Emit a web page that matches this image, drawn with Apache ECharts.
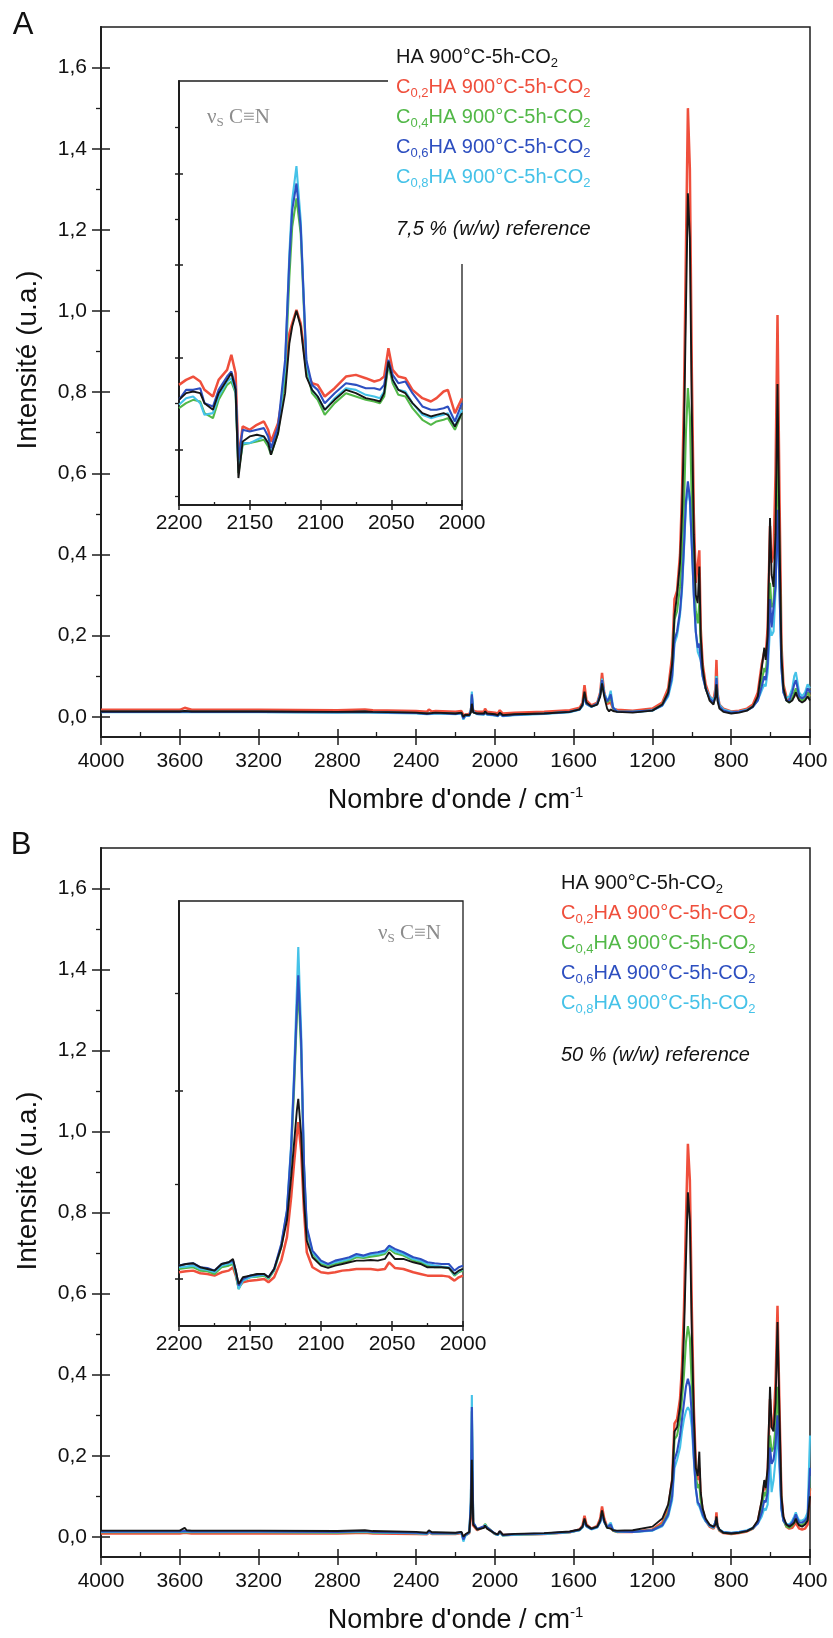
<!DOCTYPE html>
<html><head><meta charset="utf-8">
<script src="https://cdn.jsdelivr.net/npm/echarts@6/dist/echarts.min.js"></script>
<style>html,body{margin:0;padding:0;background:#fff}#c{width:833px;height:1638px}</style>
</head><body><div id="c"></div>
<script>
// ---------- wavenumber grids (cm-1) ----------
const wnLow = [4000,3800,3600,3575,3565,3540,3200,2800,2660,2620,2400,2345,2335,2320,2300,2200,2170,2160,2150,2130,2122,2117,2110,2090,2055,2050,2040,2000,1985,1975,1960,1900,1750,1620,1570,1555,1545,1535,1510,1480,1465,1456,1445,1430,1420,1412,1400,1380,1300,1200,1150];
const wnHigh = [1120,1100,1088,1075,1060,1050,1040,1030,1020,1010,1000,990,980,970,962,955,945,930,910,890,880,875,870,860,840,800,760,720,690,665,645,632,625,615,603,595,585,575,565,555,545,535,520,505,490,480,472,465,455,440,425,412,400];
const wnInsetA = [2200,2195,2190,2185,2182,2176,2172,2166,2163,2160,2158,2155,2150,2145,2140,2137,2135,2130,2125,2122,2120,2117,2114,2110,2106,2102,2097,2090,2082,2075,2068,2062,2058,2055,2052,2049,2045,2040,2035,2028,2022,2018,2013,2010,2005,2000];
const wnInsetB = [2200,2195,2190,2185,2180,2175,2170,2165,2162,2160,2158,2155,2150,2145,2140,2137,2133,2128,2124,2121,2119,2117,2116,2114,2112,2110,2106,2100,2095,2090,2085,2080,2075,2070,2065,2060,2055,2052,2048,2042,2035,2030,2025,2020,2015,2010,2006,2003,2000];

// ---------- Panel A (7,5 % w/w reference) ----------
const A_HA_low  = [0.013,0.013,0.013,0.014,0.013,0.013,0.013,0.012,0.013,0.012, 0.010,0.008,0.012,0.009,0.010,0.008,0.010,0.000,0.005,0.004, 0.010,0.032,0.010,0.008,0.008,0.013,0.008,0.006,0.004,0.010, 0.004,0.006,0.008,0.012,0.018,0.030,0.062,0.035,0.025,0.030, 0.050,0.082,0.050,0.020,0.013,0.018,0.014,0.012,0.010,0.015,0.030];
const A_C02_low = [0.017,0.017,0.017,0.022,0.018,0.017,0.017,0.016,0.018,0.016, 0.014,0.012,0.018,0.013,0.014,0.012,0.014,0.004,0.008,0.007, 0.015,0.035,0.014,0.012,0.012,0.020,0.012,0.010,0.008,0.016, 0.008,0.010,0.012,0.016,0.022,0.035,0.078,0.040,0.028,0.035, 0.060,0.108,0.060,0.032,0.030,0.035,0.020,0.017,0.015,0.020,0.035];
const A_C04_low = [0.012,0.012,0.012,0.013,0.012,0.012,0.012,0.011,0.012,0.011, 0.009,0.007,0.011,0.008,0.009,0.007,0.009,-0.003,0.003,0.003, 0.015,0.052,0.012,0.007,0.006,0.011,0.006,0.004,0.002,0.008, 0.002,0.005,0.008,0.012,0.018,0.028,0.055,0.032,0.025,0.032, 0.055,0.090,0.055,0.035,0.040,0.045,0.020,0.013,0.012,0.016,0.030];
const A_C06_low = [0.012,0.012,0.012,0.013,0.012,0.012,0.012,0.011,0.012,0.011, 0.009,0.007,0.011,0.008,0.009,0.007,0.009,-0.004,0.003,0.003, 0.016,0.055,0.012,0.007,0.006,0.012,0.006,0.004,0.002,0.008, 0.002,0.005,0.008,0.012,0.018,0.028,0.052,0.032,0.025,0.032, 0.055,0.090,0.055,0.038,0.045,0.055,0.022,0.013,0.012,0.016,0.028];
const A_C08_low = [0.011,0.011,0.011,0.012,0.011,0.011,0.011,0.010,0.011,0.010, 0.008,0.006,0.010,0.007,0.008,0.006,0.008,-0.007,0.002,0.002, 0.017,0.062,0.012,0.006,0.005,0.011,0.005,0.003,0.001,0.007, 0.001,0.004,0.007,0.011,0.017,0.027,0.050,0.031,0.024,0.031, 0.056,0.094,0.058,0.040,0.048,0.064,0.024,0.013,0.012,0.015,0.027];

const A_HA_high  = [0.06,0.13,0.25,0.30,0.38,0.50,0.70,1.00,1.29,1.18, 0.75,0.45,0.30,0.28,0.37,0.20,0.12,0.07,0.04,0.03, 0.05,0.08,0.04,0.02,0.012,0.008,0.01,0.015,0.025,0.05, 0.12,0.17,0.14,0.20,0.49,0.35,0.32,0.45,0.82,0.45, 0.15,0.07,0.04,0.035,0.04,0.05,0.06,0.05,0.04,0.035, 0.04,0.05,0.04];
const A_C02_high = [0.07,0.15,0.29,0.31,0.40,0.55,0.78,1.15,1.50,1.35, 0.85,0.50,0.33,0.33,0.41,0.22,0.13,0.08,0.05,0.04, 0.07,0.14,0.06,0.03,0.02,0.013,0.015,0.02,0.03,0.06, 0.13,0.16,0.15,0.22,0.47,0.38,0.40,0.60,0.99,0.55, 0.18,0.08,0.05,0.04,0.045,0.05,0.065,0.055,0.045,0.04, 0.045,0.06,0.05];
const A_C04_high = [0.06,0.12,0.24,0.26,0.32,0.40,0.52,0.70,0.81,0.74, 0.52,0.36,0.26,0.23,0.28,0.17,0.11,0.07,0.045,0.035, 0.05,0.10,0.05,0.025,0.015,0.01,0.012,0.017,0.025,0.045, 0.09,0.12,0.11,0.16,0.33,0.27,0.28,0.40,0.66,0.40, 0.14,0.07,0.04,0.035,0.045,0.06,0.07,0.06,0.045,0.04, 0.045,0.06,0.05];
const A_C06_high = [0.055,0.10,0.19,0.21,0.26,0.32,0.42,0.53,0.58,0.54, 0.42,0.30,0.21,0.17,0.18,0.14,0.10,0.07,0.045,0.035, 0.05,0.095,0.05,0.025,0.015,0.01,0.012,0.016,0.024,0.04, 0.075,0.10,0.09,0.13,0.29,0.22,0.22,0.32,0.51,0.32, 0.12,0.06,0.04,0.04,0.06,0.08,0.09,0.075,0.05,0.045, 0.05,0.07,0.06];
const A_C08_high = [0.05,0.09,0.18,0.20,0.25,0.31,0.41,0.52,0.56,0.53, 0.42,0.30,0.21,0.16,0.16,0.14,0.10,0.07,0.05,0.04, 0.055,0.10,0.055,0.03,0.018,0.012,0.013,0.017,0.025,0.04, 0.065,0.08,0.075,0.11,0.22,0.20,0.21,0.31,0.50,0.32, 0.12,0.06,0.045,0.05,0.07,0.10,0.11,0.09,0.06,0.05, 0.06,0.08,0.07];

// inset A (arbitrary intensity units, no scale shown)
const A_HA_inset  = [29,31,31.5,31,28,26,31,35,37,32, 5.5,16.5,18,18.5,18,16,12.5,19,31,46, 51,55.8,51,36,32,30,26,29,32,31, 29.5,29,28.5,31,40.5,35,32,31,28,25, 24,24.5,25,24.5,21,25];
const A_C02_inset = [33.5,35,36,34.5,32,30,35,38,42.5,37, 11.5,21,20,21.5,22.5,20,16.5,22,35,49, 52,56,52,38,34,33.5,30,32.5,36,36.5, 35.5,34.5,35,36,44.5,38,36,35.5,32,29.5, 28.5,29.5,31.5,32,25,29.5];
const A_C04_inset = [26.5,28,29,28.5,25,23.5,29,33.5,34.5,31, 7,15.5,16,16.5,17,15,12.5,19,36,66, 81,89.5,79,39,31,29,24.5,28,31,30, 29,28.5,28,30,39.5,34,30.5,30,26.5,23, 21.5,22.5,23,23.5,20,25];
const A_C06_inset = [29,32,32,32.5,28,27,32,36,37.5,33, 11,20,19.5,20,20.5,18,14.5,21,41,71, 86,94,81,41,33.5,32,28,31,34,33.5, 32.5,32.5,32,33.5,41,36.5,34,34.5,31,27, 26,26,26.5,27,22.5,28];
const A_C08_inset = [27.5,29.5,30,28,24.5,25,30,34.5,35.5,31.5, 8,16,16,17,18,16,13,20,39,73, 89,99.2,83,40,32,30,26,29.5,32.5,32, 30.5,30,29.5,31.5,40,35,32,31.5,28,24.5, 23.5,24,24.5,25,21,26];

// ---------- Panel B (50 % w/w reference) ----------
const B_HA_low  = [0.015,0.015,0.015,0.022,0.016,0.015,0.015,0.014,0.016,0.014, 0.012,0.010,0.016,0.011,0.011,0.010,0.012,0.000,0.006,0.012, 0.060,0.190,0.030,0.018,0.022,0.028,0.020,0.008,0.006,0.014, 0.005,0.007,0.009,0.013,0.018,0.025,0.045,0.028,0.020,0.025, 0.040,0.065,0.040,0.022,0.018,0.020,0.016,0.015,0.016,0.025,0.045];
const B_C02_low = [0.008,0.008,0.008,0.010,0.008,0.008,0.008,0.008,0.010,0.008, 0.007,0.006,0.011,0.007,0.007,0.007,0.009,-0.002,0.004,0.009, 0.055,0.170,0.028,0.016,0.025,0.030,0.022,0.007,0.005,0.013, 0.004,0.005,0.007,0.011,0.018,0.028,0.052,0.030,0.020,0.027, 0.045,0.075,0.045,0.024,0.022,0.024,0.015,0.012,0.012,0.018,0.035];
const B_C04_low = [0.011,0.011,0.011,0.012,0.011,0.011,0.011,0.010,0.012,0.010, 0.009,0.007,0.012,0.008,0.008,0.008,0.010,-0.006,0.003,0.010, 0.080,0.310,0.035,0.018,0.025,0.032,0.024,0.007,0.004,0.012, 0.003,0.005,0.007,0.011,0.016,0.024,0.040,0.026,0.019,0.024, 0.038,0.060,0.038,0.022,0.024,0.028,0.015,0.012,0.012,0.016,0.030];
const B_C06_low = [0.013,0.013,0.013,0.014,0.013,0.013,0.013,0.012,0.014,0.012, 0.010,0.008,0.013,0.009,0.009,0.009,0.011,-0.007,0.004,0.011, 0.085,0.320,0.035,0.019,0.026,0.030,0.023,0.008,0.005,0.013, 0.004,0.006,0.008,0.012,0.017,0.024,0.038,0.026,0.019,0.024, 0.037,0.058,0.037,0.023,0.026,0.030,0.016,0.013,0.012,0.016,0.028];
const B_C08_low = [0.012,0.012,0.012,0.013,0.012,0.012,0.012,0.011,0.013,0.011, 0.009,0.007,0.012,0.008,0.008,0.008,0.010,-0.012,0.002,0.011, 0.090,0.350,0.035,0.018,0.024,0.030,0.022,0.007,0.004,0.012, 0.003,0.005,0.007,0.011,0.016,0.023,0.036,0.025,0.018,0.023, 0.036,0.055,0.036,0.024,0.028,0.035,0.017,0.013,0.012,0.015,0.026];

const B_HA_high  = [0.08,0.14,0.26,0.27,0.32,0.38,0.50,0.68,0.85,0.78, 0.50,0.30,0.17,0.15,0.21,0.11,0.07,0.045,0.03,0.025, 0.03,0.05,0.028,0.018,0.01,0.008,0.01,0.014,0.022,0.04, 0.09,0.14,0.12,0.17,0.37,0.27,0.26,0.33,0.53,0.30, 0.10,0.05,0.03,0.025,0.03,0.035,0.045,0.035,0.028,0.025, 0.03,0.04,0.10];
const B_C02_high = [0.07,0.14,0.28,0.29,0.34,0.42,0.56,0.78,0.97,0.88, 0.56,0.32,0.18,0.14,0.17,0.10,0.065,0.04,0.025,0.02, 0.03,0.06,0.025,0.015,0.009,0.007,0.009,0.013,0.02,0.038, 0.085,0.13,0.115,0.16,0.34,0.27,0.28,0.38,0.57,0.32, 0.10,0.045,0.025,0.02,0.022,0.025,0.035,0.028,0.02,0.018, 0.02,0.03,0.12];
const B_C04_high = [0.06,0.12,0.24,0.25,0.29,0.34,0.40,0.48,0.52,0.49, 0.37,0.25,0.15,0.12,0.13,0.09,0.06,0.04,0.027,0.022, 0.025,0.045,0.025,0.016,0.01,0.008,0.01,0.014,0.02,0.035, 0.07,0.11,0.10,0.13,0.25,0.21,0.22,0.27,0.37,0.23, 0.08,0.04,0.025,0.022,0.028,0.035,0.045,0.038,0.03,0.03, 0.035,0.045,0.15];
const B_C06_high = [0.055,0.10,0.19,0.21,0.25,0.29,0.33,0.37,0.39,0.37, 0.30,0.20,0.12,0.085,0.08,0.07,0.055,0.04,0.028,0.023, 0.026,0.045,0.026,0.017,0.011,0.009,0.011,0.015,0.021,0.033, 0.06,0.09,0.085,0.11,0.22,0.18,0.19,0.23,0.30,0.19, 0.07,0.04,0.03,0.028,0.035,0.045,0.055,0.045,0.035,0.035, 0.04,0.05,0.17];
const B_C08_high = [0.05,0.09,0.17,0.19,0.22,0.26,0.29,0.31,0.32,0.31, 0.27,0.19,0.12,0.08,0.075,0.065,0.05,0.038,0.027,0.022, 0.026,0.045,0.027,0.018,0.012,0.01,0.012,0.016,0.022,0.032, 0.05,0.07,0.065,0.08,0.19,0.11,0.14,0.19,0.26,0.17, 0.065,0.04,0.032,0.03,0.04,0.05,0.06,0.05,0.04,0.04, 0.045,0.06,0.25];

const B_HA_inset  = [15.5,16,16.2,15,14.5,14,16,16.5,17.5,14, 10,12,12.5,13,13,12,14.5,21,29,42, 52,62,65.5,55,35,23,18,15.5,14.8,15.5, 16,16.5,17,17,17.2,17,17.5,19.5,17.5,17.5, 16.5,16,15,15,15,14.8,13,14,14.5];
const B_C02_inset = [13.5,13.8,14,13.2,13,12.5,13.5,14,15,12.5, 9,10.5,11,11.2,11.5,10.5,12,17,24,36, 46,55,58.5,50,32,19.5,15,13.5,13.2,13.5, 14,14.2,14.5,14.5,14.5,14.2,14.5,16.5,14.8,14.5, 13.5,13,12.5,12.5,12.5,12.2,11,12,12.5];
const B_C04_inset = [14.5,14.8,15,14,13.8,13,15,15.5,16,13, 8.5,11,12,12.2,12.5,11.5,14,21,31,49, 68,90,99,80,44,26,19,16,15.5,16, 16.5,17,18,17.8,18.2,18.5,19,20.5,19.2,18.5, 17,16.5,15.5,15,15,14.8,12.5,13.5,14];
const B_C06_inset = [15.5,16,16.2,15,14.8,14,16,16.5,17,14, 9.5,11.5,12.5,12.8,13,12,14.5,22,32,51, 71,93,102.5,83,46,27,20,17,16,17, 17.5,18,19,18.5,19.2,19.5,20,21.5,20.5,19.5, 18,17.5,16.5,16.2,16,16,14,15,15.5];
const B_C08_inset = [15,15.2,15.5,14.5,14.2,13.5,15.5,16,16.5,13.5, 8.5,11,12,12.5,12.8,11.8,14.2,21.5,32,52, 73,98,111,86,46,26.5,19.5,16.5,15.8,16.5, 17,17.5,18.5,18.2,18.8,19,19.5,21,19.8,19, 17.5,17,16,15.5,15.2,15,12.8,13.8,14.5];

// ---------- tick values / labels ----------
const yMainTicks = [0,0.2,0.4,0.6,0.8,1.0,1.2,1.4,1.6];
const yMainMinor = [0.1,0.3,0.5,0.7,0.9,1.1,1.3,1.5];
const insetATicksMajor = [14,41.7,69.5,97];
const insetATicksMinor = [0,28,55.7,83.2,111];
const insetBTicksMajor = [11.5,68];
const insetBTicksMinor = [39.8,97];

const legendLabels = ['HA 900°C-5h-CO{s|2}','C{s|0,2}HA 900°C-5h-CO{s|2}','C{s|0,4}HA 900°C-5h-CO{s|2}','C{s|0,6}HA 900°C-5h-CO{s|2}','C{s|0,8}HA 900°C-5h-CO{s|2}'];
const refA = '7,5 % (w/w) reference';
const refB = '50 % (w/w) reference';
const colors = ['#161616','#ef4f3c','#52b848','#2d4fc0','#45c2e8'];

// ---------- build ----------
const FONT = '"Liberation Sans", Arial, sans-serif';
const AX = '#1e1e1e', TXT = '#111';
const wnMain = wnLow.concat(wnHigh);
const pairs = (xs, ys) => xs.map((x, i) => [x, ys[i]]);

const grids = [
  {left:101, top:27, width:709, height:710, show:true, borderColor:AX, borderWidth:1.5, backgroundColor:'transparent', containLabel:false, outerBoundsMode:'none'},
  {left:179, top:81, width:283, height:424, show:true, borderColor:AX, borderWidth:1.3, backgroundColor:'#fff', containLabel:false, outerBoundsMode:'none'},
  {left:101, top:848, width:709, height:709, show:true, borderColor:AX, borderWidth:1.5, backgroundColor:'transparent', containLabel:false, outerBoundsMode:'none'},
  {left:179, top:901, width:284, height:425, show:true, borderColor:AX, borderWidth:1.3, backgroundColor:'#fff', containLabel:false, outerBoundsMode:'none'}
];

const xAxes = [], yAxes = [];
const tickLS = w => ({color:AX, width:w});
function addX(gi, min, max, interval, tickLen, minorLen, labelSize, margin, name) {
  const base = {gridIndex:gi, type:'value', min, max, interval, inverse:true, position:'bottom',
    axisLine:{show:true, onZero:false, lineStyle:{color:AX, width:1.5}}, splitLine:{show:false}, minorSplitLine:{show:false}};
  const lab = Object.assign({}, base, {
    axisTick:{show:true, inside:false, length:tickLen, lineStyle:tickLS(1.5)},
    axisLabel:{show:true, margin, fontSize:labelSize, color:TXT, fontFamily:FONT, showMinLabel:true, showMaxLabel:true, hideOverlap:false,
      formatter: v => String(Math.round(v))}
  });
  if (name) {
    Object.assign(lab, {name, nameLocation:'middle', nameGap:48,
      nameTextStyle:{fontSize:27, color:TXT, fontFamily:FONT,
        rich:{sup:{fontSize:15, color:TXT, fontFamily:FONT, padding:[0,0,16,0]}}}});
  }
  xAxes.push(lab);
  xAxes.push(Object.assign({}, base, {
    axisTick:{show:true, inside:true, length:tickLen, lineStyle:tickLS(1.5)},
    minorTick:{show:true, splitNumber:2, length:minorLen, lineStyle:tickLS(1.3)},
    axisLabel:{show:false}
  }));
}
function addY(gi, min, max, majors, minors, majLen, minLen, labels) {
  const base = {gridIndex:gi, type:'value', min, max, position:'left',
    axisLine:{show:true, onZero:false, lineStyle:{color:AX, width:1.5}}, splitLine:{show:false}};
  yAxes.push(Object.assign({}, base, {
    axisTick:{show:true, inside:false, length:majLen, customValues:majors, lineStyle:tickLS(1.5)},
    axisLabel: labels ? {show:true, customValues:majors, margin:14, fontSize:21, color:TXT, fontFamily:FONT,
      formatter: v => v.toFixed(1).replace('.', ',')} : {show:false}
  }));
  yAxes.push(Object.assign({}, base, {
    axisTick:{show:true, inside:true, length:majLen, customValues:majors, lineStyle:tickLS(1.5)},
    axisLabel:{show:false}
  }));
  yAxes.push(Object.assign({}, base, {
    axisTick:{show:true, inside:false, length:minLen, customValues:minors, lineStyle:tickLS(1.3)},
    axisLabel:{show:false}
  }));
}
const xName = "Nombre d'onde / cm{sup|-1}";
addX(0, 400, 4000, 400, 8, 5, 21, 14, xName);     // x 0,1
addX(1, 2000, 2200, 50, 5, 3, 21, 8, null);       // x 2,3
addX(2, 400, 4000, 400, 8, 5, 21, 14, xName);     // x 4,5
addX(3, 2000, 2200, 50, 5, 3, 21, 8, null);       // x 6,7
addY(0, -0.05, 1.7, yMainTicks, yMainMinor, 9, 5, true);          // y 0,1,2
addY(1, -2.6, 124.8, insetATicksMajor, insetATicksMinor, 4, 4, false); // y 3,4,5
addY(2, -0.05, 1.7, yMainTicks, yMainMinor, 9, 5, true);          // y 6,7,8
addY(3, -2.6, 124.8, insetBTicksMajor, insetBTicksMinor, 4, 4, false); // y 9,10,11

const series = [];
function addSet(xi, yi, xs, sets, widths) {
  const order = [1,2,4,3,0]; // red, green, cyan, blue, black
  order.forEach((k, j) => {
    series.push({type:'line', xAxisIndex:xi, yAxisIndex:yi, data:pairs(xs, sets[k]),
      showSymbol:false, symbol:'none', smooth:false, animation:false, silent:true,
      lineStyle:{color:colors[k], width:widths[k]}, z:2 + j});
  });
}
const mainW = [1.9,2.5,2.1,2.1,2.1];
addSet(0, 0, wnMain, [A_HA_low.concat(A_HA_high), A_C02_low.concat(A_C02_high), A_C04_low.concat(A_C04_high), A_C06_low.concat(A_C06_high), A_C08_low.concat(A_C08_high)], mainW);
addSet(2, 3, wnInsetA, [A_HA_inset, A_C02_inset, A_C04_inset, A_C06_inset, A_C08_inset], mainW);
addSet(4, 6, wnMain, [B_HA_low.concat(B_HA_high), B_C02_low.concat(B_C02_high), B_C04_low.concat(B_C04_high), B_C06_low.concat(B_C06_high), B_C08_low.concat(B_C08_high)], mainW);
addSet(6, 9, wnInsetB, [B_HA_inset, B_C02_inset, B_C04_inset, B_C06_inset, B_C08_inset], mainW);

const richLeg = {s:{fontSize:13, fontFamily:FONT, lineHeight:12, verticalAlign:'bottom'}};
const graphics = [];
function txt(x, y, text, extra) {
  graphics.push({type:'text', x, y, z:60, silent:true,
    style:Object.assign({text, fontFamily:FONT, fontSize:20, fill:TXT, align:'left', verticalAlign:'middle'}, extra)});
}
// panel letters
txt(23, 25, 'A', {fontSize:31, align:'center'});
txt(21, 845, 'B', {fontSize:31, align:'center'});
// y titles
graphics.push({type:'text', x:28, y:360, rotation:Math.PI/2, z:60, silent:true,
  style:{text:'Intensité (u.a.)', fontFamily:FONT, fontSize:28, fill:TXT, align:'center', verticalAlign:'middle'}});
graphics.push({type:'text', x:28, y:1181, rotation:Math.PI/2, z:60, silent:true,
  style:{text:'Intensité (u.a.)', fontFamily:FONT, fontSize:28, fill:TXT, align:'center', verticalAlign:'middle'}});
// legend A background
graphics.push({type:'rect', z:50, silent:true, shape:{x:388, y:34, width:225, height:230}, style:{fill:'#fff'}});
function legend(x, y0, ref) {
  legendLabels.forEach((t, i) => {
    txt(x, y0 + 30 * i, t, {fill:colors[i], lineHeight:25, rich:richLeg});
  });
  txt(x, y0 + 172, ref, {fontStyle:'italic'});
}
legend(396, 57, refA);
legend(561, 883, refB);
// nu_s C≡N labels
const SERIF = '"Liberation Serif", "DejaVu Serif", serif';
const richNu = {s:{fontSize:13, fontFamily:SERIF, fill:'#8c8c8c', lineHeight:12, verticalAlign:'bottom'}};
txt(207, 117, 'ν{s|S} C≡N', {fontFamily:SERIF, fontSize:21, fill:'#8c8c8c', lineHeight:24, rich:richNu});
txt(378, 933, 'ν{s|S} C≡N', {fontFamily:SERIF, fontSize:21, fill:'#8c8c8c', lineHeight:24, rich:richNu});

const chart = echarts.init(document.getElementById('c'), null, {renderer:'canvas', width:833, height:1638});
chart.setOption({
  animation:false, backgroundColor:'#fff',
  grid:grids, xAxis:xAxes, yAxis:yAxes, series, graphic:graphics
});
</script>
</body></html>
